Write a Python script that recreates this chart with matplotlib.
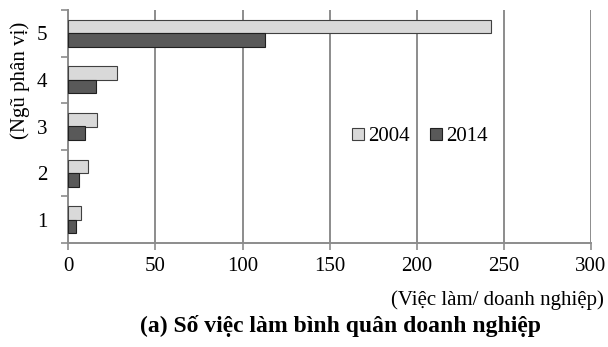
import numpy as np
import matplotlib.pyplot as plt

plt.rcParams['font.family'] = ['Liberation Serif', 'DejaVu Serif']

categories = ['1', '2', '3', '4', '5']
vals_2004 = [7.5, 11.1, 16.3, 27.8, 242.6]
vals_2014 = [4.2, 6.0, 9.4, 16.1, 112.9]
xticks = [0, 50, 100, 150, 200, 250, 300]

fig = plt.figure(figsize=(6.08, 3.47), dpi=100)
ax = fig.add_axes([68.3/608, 1-243/347, (591-68.3)/608, 233/347])

y = np.arange(len(categories))
h = 0.29
ax.barh(y + h/2, vals_2004, height=h, color='#d9d9d9', edgecolor='#404040', linewidth=0.8, label='2004', zorder=3)
ax.barh(y - h/2, vals_2014, height=h, color='#595959', edgecolor='#202020', linewidth=0.8, label='2014', zorder=3)

ax.set_xlim(0, 300)
ax.set_ylim(-0.5, 4.5)
ax.set_xticks(xticks)
ax.set_yticks(y)
ax.set_yticklabels(categories)
ax.set_yticks(np.arange(-0.5, 5, 1), minor=True)
ax.tick_params(axis='y', which='major', length=0, labelsize=15, pad=15)
ax.tick_params(axis='y', which='minor', length=5, width=1.2, color='#8c8c8c', direction='out')
ax.tick_params(axis='x', length=5, width=1.2, color='#8c8c8c', labelsize=15, pad=5)

ax.xaxis.grid(True, color='#8c8c8c', linewidth=1.4, zorder=0)
for s in ['top', 'right']:
    ax.spines[s].set_visible(False)
for s in ['left', 'bottom']:
    ax.spines[s].set_color('#8c8c8c')
    ax.spines[s].set_linewidth(1.4)

ax.legend(loc='center', bbox_to_anchor=(0.673, 0.455), ncol=2, frameon=False,
          fontsize=15, handlelength=0.55, handleheight=0.55, handletextpad=0.2,
          columnspacing=1.0)

fig.text(20/608, 1-80/347, '(Ngũ phân vị)', rotation=90, ha='center', va='center', fontsize=15)
fig.text(604/608, 1-300/347, '(Việc làm/ doanh nghiệp)', ha='right', va='center', fontsize=15)
fig.text(340/608, 1-326/347, '(a) Số việc làm bình quân doanh nghiệp', ha='center', va='center',
         fontsize=17, fontweight='bold')

fig.savefig('out.png', dpi=100)
